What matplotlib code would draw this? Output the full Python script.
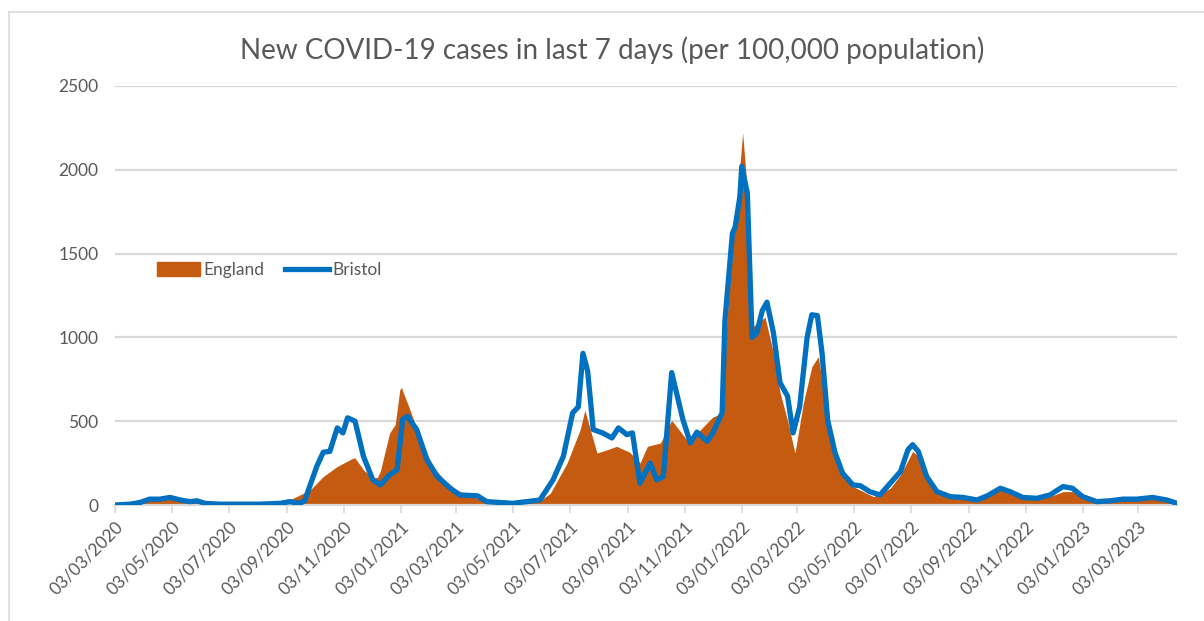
import matplotlib
matplotlib.use("Agg")
import matplotlib.pyplot as plt
import matplotlib.dates as mdates
from matplotlib.lines import Line2D
import pandas as pd

# England, new cases in last 7 days per 100,000
england_dates = [
    "2020-03-03", "2020-03-19", "2020-03-30", "2020-04-09", "2020-04-20", "2020-05-01",
    "2020-05-12", "2020-05-22", "2020-06-02", "2020-06-13", "2020-07-04", "2020-07-26",
    "2020-08-16", "2020-08-27", "2020-09-06", "2020-09-17", "2020-09-28", "2020-10-12",
    "2020-10-27", "2020-11-13", "2020-11-15", "2020-11-24", "2020-12-04", "2020-12-09",
    "2020-12-12", "2020-12-22", "2020-12-28", "2021-01-02", "2021-01-04", "2021-01-05",
    "2021-01-13", "2021-01-24", "2021-02-06", "2021-02-25", "2021-03-15", "2021-04-01",
    "2021-04-19", "2021-05-03", "2021-06-01", "2021-06-12", "2021-06-30", "2021-07-14",
    "2021-07-19", "2021-08-01", "2021-08-12", "2021-08-22", "2021-09-05", "2021-09-16",
    "2021-09-24", "2021-10-08", "2021-10-20", "2021-11-05", "2021-11-09", "2021-11-19",
    "2021-12-03", "2021-12-14", "2021-12-18", "2021-12-25", "2021-12-30", "2022-01-04",
    "2022-01-10", "2022-01-14", "2022-01-23", "2022-01-28", "2022-02-06", "2022-02-13",
    "2022-02-21", "2022-03-01", "2022-03-10", "2022-03-19", "2022-03-26", "2022-03-31",
    "2022-04-08", "2022-04-18", "2022-05-02", "2022-05-24", "2022-06-11", "2022-06-22",
    "2022-07-05", "2022-07-11", "2022-07-20", "2022-07-31", "2022-08-14", "2022-08-28",
    "2022-09-12", "2022-09-23", "2022-10-07", "2022-10-17", "2022-10-31", "2022-11-15",
    "2022-11-29", "2022-12-13", "2022-12-23", "2023-01-03", "2023-01-18", "2023-02-01",
    "2023-02-15", "2023-03-02", "2023-03-19", "2023-04-03", "2023-04-14",
]
england_vals = [
    3, 15, 35, 50, 50, 45,
    35, 25, 15, 8, 4, 3,
    6, 12, 30, 60, 90, 170,
    230, 280, 280, 210, 160, 165,
    200, 430, 480, 690, 700, 680,
    565, 390, 230, 110, 60, 30,
    18, 15, 25, 70, 250, 450,
    565, 310, 330, 350, 315, 250,
    350, 370, 505, 390, 410, 445,
    525, 550, 1100, 1580, 1900, 2220,
    1800, 1060, 1100, 1120, 905, 670,
    505, 310, 610, 825, 885, 705,
    410, 210, 110, 50, 100, 180,
    320, 290, 160, 70, 40, 35,
    25, 50, 95, 75, 40, 35,
    50, 80, 80, 40, 15, 20,
    30, 30, 40, 25, 10,
]

# Bristol, new cases in last 7 days per 100,000
bristol_dates = [
    "2020-03-03", "2020-03-19", "2020-03-30", "2020-04-09", "2020-04-20", "2020-05-01",
    "2020-05-12", "2020-05-22", "2020-05-30", "2020-06-07", "2020-06-23", "2020-08-05",
    "2020-08-27", "2020-09-06", "2020-09-17", "2020-09-22", "2020-10-05", "2020-10-12",
    "2020-10-19", "2020-10-27", "2020-11-02", "2020-11-07", "2020-11-15", "2020-11-24",
    "2020-12-04", "2020-12-12", "2020-12-22", "2020-12-30", "2021-01-05", "2021-01-10",
    "2021-01-20", "2021-01-31", "2021-02-11", "2021-02-25", "2021-03-07", "2021-03-26",
    "2021-04-05", "2021-05-03", "2021-06-01", "2021-06-15", "2021-06-26", "2021-07-06",
    "2021-07-12", "2021-07-17", "2021-07-22", "2021-07-28", "2021-08-07", "2021-08-17",
    "2021-08-24", "2021-09-02", "2021-09-08", "2021-09-16", "2021-09-27", "2021-10-04",
    "2021-10-11", "2021-10-20", "2021-11-01", "2021-11-09", "2021-11-16", "2021-11-27",
    "2021-12-03", "2021-12-13", "2021-12-16", "2021-12-24", "2021-12-27", "2022-01-01",
    "2022-01-03", "2022-01-09", "2022-01-14", "2022-01-19", "2022-01-25", "2022-01-30",
    "2022-02-06", "2022-02-13", "2022-02-21", "2022-02-27", "2022-03-06", "2022-03-14",
    "2022-03-19", "2022-03-25", "2022-03-30", "2022-04-05", "2022-04-13", "2022-04-21",
    "2022-05-02", "2022-05-10", "2022-05-20", "2022-05-31", "2022-06-11", "2022-06-22",
    "2022-06-30", "2022-07-05", "2022-07-11", "2022-07-20", "2022-07-31", "2022-08-14",
    "2022-08-28", "2022-09-12", "2022-09-23", "2022-10-07", "2022-10-17", "2022-10-31",
    "2022-11-15", "2022-11-29", "2022-12-13", "2022-12-23", "2023-01-03", "2023-01-18",
    "2023-02-01", "2023-02-15", "2023-03-02", "2023-03-19", "2023-04-03", "2023-04-14",
]
bristol_vals = [
    0, 5, 15, 35, 35, 45,
    30, 20, 25, 10, 5, 5,
    10, 20, 10, 25, 230, 315,
    320, 460, 430, 520, 500, 290,
    150, 120, 180, 210, 510, 530,
    450, 270, 170, 100, 60, 55,
    20, 10, 30, 150, 290, 550,
    585, 905, 800, 450, 430, 400,
    460, 420, 430, 130, 250, 150,
    170, 790, 510, 370, 435, 380,
    430, 550, 1100, 1620, 1660, 1840,
    2020, 1860, 1000, 1025, 1160, 1210,
    1025, 730, 650, 430, 585, 1000,
    1135, 1130, 905, 505, 310, 190,
    120, 115, 80, 60, 130, 200,
    330, 360, 320, 170, 80, 50,
    45, 30, 55, 100, 80, 45,
    40, 60, 110, 100, 50, 20,
    25, 35, 35, 45, 30, 10,
]

y_ticks = [0, 500, 1000, 1500, 2000, 2500]
start_date = "2020-03-03"
end_date = "2023-04-14"

plt.rcParams["font.family"] = ["Lato", "DejaVu Sans"]
grey = "#595959"
orange = "#C55A11"
blue = "#0070C0"

fig = plt.figure(figsize=(12.04, 6.21), dpi=100)
ax = fig.add_axes([115 / 1204, 1 - 505 / 621, (1177 - 115) / 1204, (505 - 86) / 621])

eng_x = pd.to_datetime(england_dates)
bri_x = pd.to_datetime(bristol_dates)
ax.fill_between(eng_x, england_vals, 0, color=orange, lw=0, zorder=2)
ax.plot(bri_x, bristol_vals, color=blue, lw=3.8, solid_joinstyle="round", zorder=3)

ax.set_xlim(pd.Timestamp(start_date), pd.Timestamp(end_date))
ax.set_ylim(0, 2500)
ax.set_yticks(y_ticks)
ax.yaxis.grid(True, color="#D9D9D9", lw=1.6, zorder=0)
ax.set_axisbelow(True)

# ticks every two months on the 3rd
tick_dates = pd.date_range("2020-03-01", "2023-03-01", freq="2MS") + pd.Timedelta(days=2)
ax.set_xticks(tick_dates)
ax.xaxis.set_major_formatter(mdates.DateFormatter("%d/%m/%Y"))
ax.tick_params(axis="x", length=6, width=1.2, color="#D9D9D9", pad=4,
               labelsize=12.5, labelcolor=grey)
ax.tick_params(axis="y", length=0, pad=12, labelsize=12.5, labelcolor=grey)
for lab in ax.get_xticklabels():
    lab.set_rotation(45)
    lab.set_ha("right")
    lab.set_rotation_mode("anchor")

for s in ["top", "right", "left"]:
    ax.spines[s].set_visible(False)
ax.spines["bottom"].set_color("#D9D9D9")
ax.spines["bottom"].set_linewidth(1.6)

handles = [plt.Rectangle((0, 0), 1, 1, color=orange),
           Line2D([0], [0], color=blue, lw=3.8)]
ax.legend(handles, ["England", "Bristol"], loc="center left",
          bbox_to_anchor=(0.031, 0.561), ncol=2, frameon=False,
          handlelength=2.5, handleheight=0.8, handletextpad=0.2,
          columnspacing=1.2, borderpad=0, labelcolor=grey, fontsize=12.5)

fig.text(0.5085, 1 - 50 / 621, "New COVID-19 cases in last 7 days (per 100,000 population)",
         ha="center", va="center", fontsize=20, color=grey)

# chart border (top and left visible)
fig.add_artist(Line2D([9 / 1204, 9 / 1204], [0, 1 - 12 / 621], color="#D9D9D9", lw=1.2))
fig.add_artist(Line2D([9 / 1204, 1], [1 - 12 / 621, 1 - 12 / 621], color="#D9D9D9", lw=1.2))

fig.savefig("out.png", dpi=100)
